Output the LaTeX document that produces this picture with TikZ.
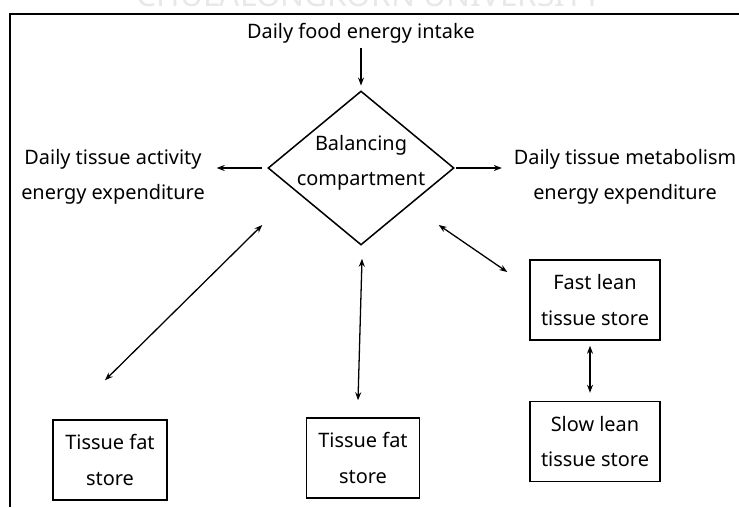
\documentclass[tikz,border=0pt]{standalone}
\usepackage{fontspec}
\setmainfont{Noto Sans}
\usetikzlibrary{positioning, shapes.geometric, arrows.meta, calc}

\tikzset{
  lbl/.style={font=\fontsize{17}{30}\selectfont, align=center, inner sep=2pt},
  side/.style={lbl, inner xsep=10pt},
  store/.style={draw, line width=1.3pt, lbl, minimum height=2.4cm},
  arr/.style={-{Stealth[length=2.4mm,width=1.8mm]}, line width=1.1pt},
  dbl/.style={{Stealth[length=2.4mm,width=1.8mm]}-{Stealth[length=2.4mm,width=1.8mm]}, line width=1.1pt},
}

\begin{document}
\begin{tikzpicture}[x=0.03cm, y=-0.03cm]
  \useasboundingbox (0,0) rectangle (739,507);
  \clip (0,0) rectangle (739,507);

  % watermark and frame
  \node[anchor=base, text=black!9, font=\fontsize{27}{27}\selectfont\bfseries] (wmark) at (369,7) {CHULALONGKORN UNIVERSITY};
  \draw[line width=1.5pt] (10,507) -- (10,14) -- (739,14);

  % centre
  \node[lbl] (intake) at (361,33) {Daily food energy intake};
  \node[draw, diamond, line width=1.3pt, minimum width=5.58cm, minimum height=4.62cm, inner sep=0pt] (bal) at (361,168) {};
  \node[lbl] (baltxt) at (361,163) {Balancing\\compartment};

  % expenditure
  \node[side] (act) at (113,177) {Daily tissue activity\\energy expenditure};
  \node[side] (met) at (625,177) {Daily tissue metabolism\\energy expenditure};

  % stores
  \node[store, minimum width=3.42cm] (fatA) at (110,460) {Tissue fat\\store};
  \node[store, minimum width=3.39cm] (fatB) at (363,458) {Tissue fat\\store};
  \node[store, minimum width=3.9cm] (fast) at (595,300) {Fast lean\\tissue store};
  \node[store, minimum width=3.9cm, below=1.8cm of fast] (slow) {Slow lean\\tissue store};

  % arrows
  \draw[arr, shorten <=2pt, shorten >=4pt] (intake.south) -- (bal.north);
  \draw[arr, shorten <=4.5pt] (bal.west) -- (bal.west -| act.east);
  \draw[arr, shorten <=1pt] (bal.east) -- (bal.east -| met.west);
  \draw[dbl] ([shift={(-5,57)}]bal.west) -- ([shift={(-5,-39)}]fatA.north);
  \draw[dbl] ([shift={(1,13)}]bal.south) -- ([shift={(-5,-17)}]fatB.north);
  \draw[dbl] ([shift={(-16,57)}]bal.east) -- ([shift={(-22,-28)}]fast.west);
  \draw[dbl] ([shift={(-5,5)}]fast.south) -- ([shift={(-5,-8)}]slow.north);
\end{tikzpicture}
\end{document}
